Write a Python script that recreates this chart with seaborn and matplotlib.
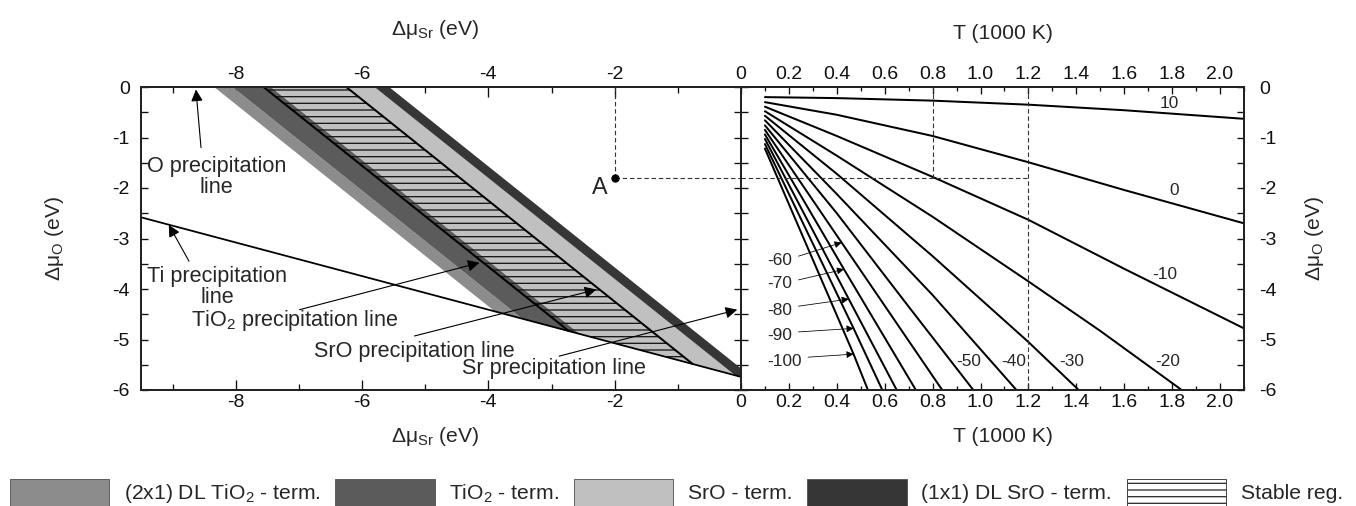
import numpy as np
import pandas as pd
import seaborn as sns
import matplotlib.pyplot as plt
from matplotlib.patches import Patch
from matplotlib.ticker import MultipleLocator, FuncFormatter

# ---------- left panel: (d_mu_Sr, d_mu_O) map ----------
# Ti precipitation line (lower border of the allowed region)
ti_x = [-9.5, 0.0]
ti_y = [-2.58, -5.74]

# termination bands, limits given as d_mu_Sr + d_mu_O
band_labels = ['(2x1) DL TiO$_2$ - term.', 'TiO$_2$ - term.', 'SrO - term.', '(1x1) DL SrO - term.']
band_from = [-8.34, -8.05, -7.44, -5.80]
band_to = [-8.05, -7.44, -5.80, -5.57]
band_colors = ['#8c8c8c', '#5b5b5b', '#c0c0c0', '#363636']

# TiO2 and SrO precipitation lines, stable region in between
precip_sum = [-7.56, -6.25]

point_a = [-2.0, -1.8]

# ---------- right panel: d_mu_O(T) for log10(p) ----------
p_labels = [10, 0, -10, -20, -30, -40, -50, -60, -70, -80, -90, -100]
t_p10 = [0.1, 0.4, 0.8, 1.2, 1.6, 2.1]
mu_p10 = [-0.20, -0.22, -0.27, -0.35, -0.46, -0.63]
t_p0 = [0.1, 0.4, 0.8, 1.2, 1.6, 2.1]
mu_p0 = [-0.30, -0.55, -0.97, -1.49, -2.04, -2.70]
t_m10 = [0.1, 0.4, 0.8, 1.2, 1.6, 2.1]
mu_m10 = [-0.39, -0.97, -1.78, -2.63, -3.60, -4.78]
t_m20 = [0.1, 0.4, 0.8, 1.2, 1.5, 1.84]
mu_m20 = [-0.48, -1.36, -2.57, -3.85, -4.83, -6.0]
t_m30 = [0.1, 0.4, 0.8, 1.2, 1.41]
mu_m30 = [-0.57, -1.72, -3.35, -5.05, -6.0]
t_m40 = [0.1, 0.4, 0.8, 1.15]
mu_m40 = [-0.66, -2.12, -4.12, -6.0]
t_m50 = [0.1, 0.4, 0.7, 0.97]
mu_m50 = [-0.76, -2.50, -4.35, -6.0]
t_m60 = [0.1, 0.42, 0.84]
mu_m60 = [-0.85, -3.08, -6.0]
t_m70 = [0.1, 0.43, 0.73]
mu_m70 = [-0.94, -3.61, -6.0]
t_m80 = [0.1, 0.45, 0.65]
mu_m80 = [-1.03, -4.20, -6.0]
t_m90 = [0.1, 0.47, 0.59]
mu_m90 = [-1.13, -4.78, -6.0]
t_m100 = [0.1, 0.47, 0.53]
mu_m100 = [-1.22, -5.29, -6.0]

t_marks = [0.8, 1.2]

curves = [(t_p10, mu_p10), (t_p0, mu_p0), (t_m10, mu_m10), (t_m20, mu_m20),
          (t_m30, mu_m30), (t_m40, mu_m40), (t_m50, mu_m50), (t_m60, mu_m60),
          (t_m70, mu_m70), (t_m80, mu_m80), (t_m90, mu_m90), (t_m100, mu_m100)]
rows = []
for lab, (ts, ms) in zip(p_labels, curves):
    for t, m in zip(ts, ms):
        rows.append({'T': t, 'mu': m, 'logp': lab})
curve_df = pd.DataFrame(rows)

sns.set_theme(style='ticks')
plt.rcParams['font.family'] = ['Liberation Sans', 'DejaVu Sans']
plt.rcParams['mathtext.default'] = 'regular'
plt.rcParams['axes.unicode_minus'] = False
plt.rcParams['hatch.linewidth'] = 1.2

DPI = 80
TICK_FS = 17.5
NOTE_FS = 19.5
LABEL_FS = 19

fig = plt.figure(figsize=(1356 / DPI, 506 / DPI), dpi=DPI)
axl = fig.add_axes([141 / 1356, 116 / 506, 600 / 1356, 303 / 506])
axr = fig.add_axes([741 / 1356, 116 / 506, 503 / 1356, 303 / 506])

# bands
xs = np.linspace(ti_x[0], ti_x[1], 2000)
lower = np.interp(xs, ti_x, ti_y)
for lo, hi, c in zip(band_from, band_to, band_colors):
    top = np.minimum(0, hi - xs)
    bot = np.maximum(lo - xs, lower)
    axl.fill_between(xs, bot, np.maximum(top, bot), color=c, lw=0)

# stable region (hatched)
top = np.minimum(0, precip_sum[1] - xs)
bot = np.maximum(precip_sum[0] - xs, lower)
axl.fill_between(xs, bot, np.maximum(top, bot), facecolor='none', edgecolor='#1a1a1a',
                 hatch='--', lw=0)

# precipitation lines of TiO2 and SrO (end on the Ti line)
k = (ti_y[1] - ti_y[0]) / (ti_x[1] - ti_x[0])
for s in precip_sum:
    xe = (s - ti_y[0] + k * ti_x[0]) / (1 + k)
    axl.plot([s, xe], [0, s - xe], color='black', lw=1.8)

sns.lineplot(x=ti_x, y=ti_y, ax=axl, color='black', lw=1.6)

# point A and its guide lines
dash = dict(color='#333333', lw=1.0, ls=(0, (4, 2.5)))
axl.plot([point_a[0], point_a[0]], [0, point_a[1]], **dash)
axl.plot([point_a[0], 0], [point_a[1], point_a[1]], **dash)
axl.plot(point_a[0], point_a[1], 'o', color='black', ms=6.5)
axl.text(point_a[0] - 0.24, point_a[1] - 0.2, 'A', fontsize=21, ha='center', va='center')

arrow = dict(arrowstyle='-|>', color='black', lw=1.0, mutation_scale=22, shrinkA=0, shrinkB=0)
axl.text(-8.3, -1.78, 'O precipitation\nline', fontsize=NOTE_FS, ha='center', va='center', linespacing=1.0)
axl.annotate('', xy=(-8.63, -0.05), xytext=(-8.55, -1.2), arrowprops=arrow)
axl.text(-8.29, -3.97, 'Ti precipitation\nline', fontsize=NOTE_FS, ha='center', va='center', linespacing=1.0)
axl.annotate('', xy=(-9.06, -2.73), xytext=(-8.74, -3.45), arrowprops=arrow)
axl.text(-7.07, -4.62, 'TiO$_2$ precipitation line', fontsize=NOTE_FS, ha='center', va='center')
axl.annotate('', xy=(-4.14, -3.48), xytext=(-6.99, -4.41), arrowprops=arrow)
axl.text(-5.17, -5.23, 'SrO precipitation line', fontsize=NOTE_FS, ha='center', va='center')
axl.annotate('', xy=(-2.29, -4.01), xytext=(-5.17, -4.93), arrowprops=arrow)
axl.text(-2.96, -5.57, 'Sr precipitation line', fontsize=NOTE_FS, ha='center', va='center')
axl.annotate('', xy=(-0.06, -4.41), xytext=(-2.88, -5.33), arrowprops=arrow)

# right panel curves
sns.lineplot(data=curve_df, x='T', y='mu', units='logp', estimator=None, sort=False,
             color='black', lw=1.8, ax=axr, legend=False)
axr.plot([t_marks[0], t_marks[0]], [0, point_a[1]], **dash)
axr.plot([t_marks[1], t_marks[1]], [0, -6], **dash)
axr.plot([0, t_marks[1]], [point_a[1], point_a[1]], **dash)

for txt, x, y in [('10', 1.79, -0.32), ('0', 1.81, -2.04), ('-10', 1.77, -3.72),
                  ('-20', 1.78, -5.44), ('-30', 1.38, -5.44), ('-40', 1.14, -5.44),
                  ('-50', 0.95, -5.44)]:
    axr.text(x, y, txt, fontsize=15.5, ha='center', va='center')
small_arrow = dict(arrowstyle='-|>', color='black', lw=0.7, mutation_scale=13, shrinkA=0, shrinkB=0)
for txt, tx, ty, tip in [('-60', 0.16, -3.43, (0.42, -3.08)), ('-70', 0.16, -3.90, (0.43, -3.61)),
                         ('-80', 0.16, -4.42, (0.45, -4.20)), ('-90', 0.16, -4.93, (0.47, -4.78)),
                         ('-100', 0.18, -5.43, (0.47, -5.29))]:
    axr.text(tx, ty, txt, fontsize=15.5, ha='center', va='center')
    axr.annotate('', xy=tip, xytext=(tx + 0.08 + 0.02 * (len(txt) - 3), ty + 0.08), arrowprops=small_arrow)

# axes, ticks
for ax in (axl, axr):
    ax.set_ylim(-6, 0)
    ax.set_xlabel('')
    ax.set_ylabel('')
    ax.yaxis.set_major_locator(MultipleLocator(1))
    ax.yaxis.set_minor_locator(MultipleLocator(0.5))
    ax.tick_params(which='both', direction='in', top=True, bottom=True, left=True, right=True,
                   width=1.2, labelsize=TICK_FS, colors='#111111')
    ax.tick_params(axis='y', which='both', length=6.5)
    for sp in ax.spines.values():
        sp.set_linewidth(1.8)
        sp.set_color('#222222')

axl.set_xlim(-9.5, 0)
axl.xaxis.set_major_locator(MultipleLocator(2))
axl.xaxis.set_minor_locator(MultipleLocator(1))
axl.set_xticks([-8, -6, -4, -2])
axl.tick_params(axis='x', which='major', length=9)
axl.tick_params(axis='x', which='minor', length=5.5)
axl.tick_params(labeltop=True, labelbottom=True, labelleft=True, labelright=False)
axl.tick_params(axis='x', pad=4)
axl.tick_params(axis='y', pad=10)

axr.set_xlim(0, 2.1)
axr.xaxis.set_major_locator(MultipleLocator(0.2))
axr.xaxis.set_minor_locator(MultipleLocator(0.1))
axr.xaxis.set_major_formatter(FuncFormatter(lambda v, p: '0' if abs(v) < 1e-9 else f'{v:.1f}'))
axr.tick_params(axis='x', which='major', length=6.5)
axr.tick_params(axis='x', which='minor', length=3.5)
axr.tick_params(labeltop=True, labelbottom=True, labelleft=False, labelright=True)
axr.tick_params(axis='x', pad=4)
axr.tick_params(axis='y', pad=14)

lab = dict(fontsize=LABEL_FS, ha='center', va='center')
axl.text(0.49, 1.19, r'$\Delta\mu_{Sr}$ (eV)', transform=axl.transAxes, **lab)
axl.text(0.49, -0.155, r'$\Delta\mu_{Sr}$ (eV)', transform=axl.transAxes, **lab)
axl.text(-0.145, 0.5, r'$\Delta\mu_{O}$ (eV)', transform=axl.transAxes, rotation=90, **lab)
axr.text(0.52, 1.175, 'T (1000 K)', transform=axr.transAxes, **lab)
axr.text(0.52, -0.155, 'T (1000 K)', transform=axr.transAxes, **lab)
axr.text(1.14, 0.5, r'$\Delta\mu_{O}$ (eV)', transform=axr.transAxes, rotation=90, **lab)

handles = [Patch(facecolor=c, edgecolor='#555555', lw=0.8) for c in band_colors]
handles.append(Patch(facecolor='white', edgecolor='#333333', hatch='--', lw=0.8))
fig.legend(handles, band_labels + ['Stable reg.'], loc='lower left', bbox_to_anchor=(10 / 1356, 0),
           ncol=5, frameon=False, fontsize=19, handlelength=4.7, handleheight=1.6,
           handletextpad=0.7, columnspacing=0.7, borderaxespad=0, borderpad=0)

fig.savefig('out.png', dpi=DPI)
